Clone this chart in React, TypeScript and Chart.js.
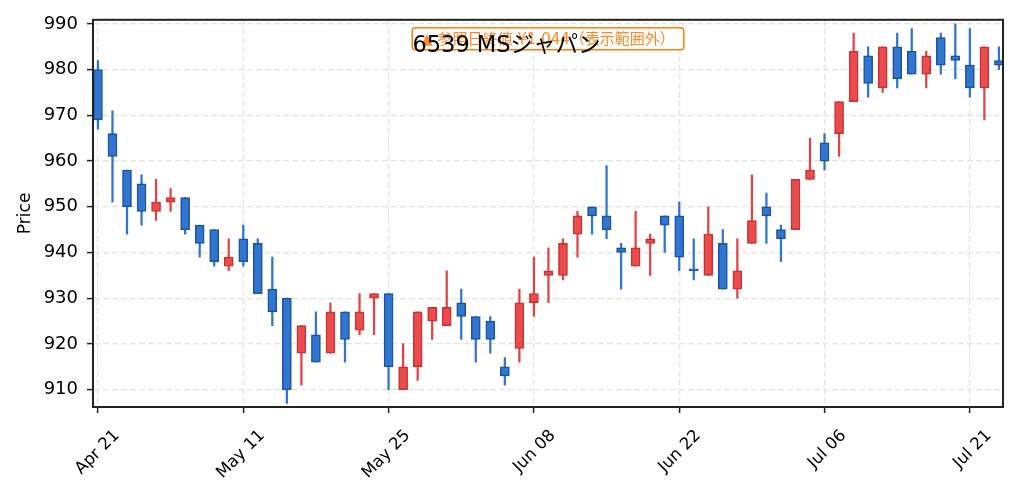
import { useEffect, useRef } from 'react';
import { Chart, registerables } from 'chart.js';

Chart.register(...registerables);

// 6539 MSジャパン daily OHLC (trading-day index)
const opens = [
  980, 966, 958, 955, 949, 951, 952, 946, 945, 937,
  943, 942, 932, 930, 918, 922, 918, 927, 923, 930,
  931, 910, 915, 925, 924, 929, 926, 925, 915, 919,
  929, 935, 935, 944, 950, 948, 941, 937, 942, 948,
  948, 936, 935, 942, 932, 942, 950, 945, 945, 956,
  964, 966, 973, 983, 976, 985, 984, 979, 987, 983,
  981, 976, 982,
];
const highs = [
  982, 971, 958, 957, 956, 954, 952, 946, 945, 943,
  946, 943, 939, 930, 924, 927, 929, 927, 931, 931,
  931, 920, 927, 928, 936, 932, 926, 926, 917, 932,
  939, 941, 943, 949, 950, 959, 942, 949, 944, 948,
  951, 943, 950, 945, 943, 957, 953, 946, 956, 965,
  966, 973, 988, 985, 985, 988, 989, 984, 988, 990,
  989, 985, 985,
];
const lows = [
  967, 951, 944, 946, 947, 949, 944, 939, 937, 936,
  937, 931, 924, 907, 911, 916, 918, 916, 922, 922,
  910, 910, 912, 921, 924, 921, 916, 918, 911, 916,
  926, 929, 934, 939, 944, 943, 932, 937, 935, 940,
  936, 934, 935, 932, 930, 942, 942, 938, 945, 956,
  958, 961, 973, 974, 975, 976, 979, 976, 979, 978,
  974, 969, 980,
];
const closes = [
  969, 961, 950, 949, 951, 952, 945, 942, 938, 939,
  938, 931, 927, 910, 924, 916, 927, 921, 927, 931,
  915, 915, 927, 928, 928, 926, 921, 921, 913, 929,
  931, 936, 942, 948, 948, 945, 940, 941, 943, 946,
  939, 936, 944, 932, 936, 947, 948, 943, 956, 958,
  960, 973, 984, 977, 985, 978, 979, 983, 981, 982,
  976, 985, 981,
];

const tickIndex = [0, 10, 20, 30, 40, 50, 60];
const tickLabels = ['Apr 21', 'May 11', 'May 25', 'Jun 08', 'Jun 22', 'Jul 06', 'Jul 21'];
const yTicks = [910, 920, 930, 940, 950, 960, 970, 980, 990];

const title = '6539 MSジャパン';
const note = '▲ 参照日終値 ¥1,044（表示範囲外）';

const FONT = '"DejaVu Sans", "Noto Sans CJK JP", sans-serif';
const UP_FILL = '#e84c4c';
const UP_EDGE = '#cc3030';
const DOWN_FILL = '#2f76cc';
const DOWN_EDGE = '#1a52a8';
const GRID = '#e3e3e3';
const AXIS = '#222222';

const isUp = (i: number) => closes[i] > opens[i];

const overlay = {
  id: 'overlay',
  afterDraw(chart: Chart) {
    const { ctx, chartArea } = chart;
    const { left, top, right, bottom } = chartArea;
    ctx.save();

    // frame on all four sides
    ctx.strokeStyle = AXIS;
    ctx.lineWidth = 2;
    ctx.setLineDash([]);
    ctx.strokeRect(left, top, right - left, bottom - top);

    // note box, centred on the plot
    ctx.font = `15px ${FONT}`;
    const cx = (left + right) / 2;
    const tw = ctx.measureText(note).width;
    const bw = tw + 18;
    const bx = cx - bw / 2;
    const by = top + 8;
    const bh = 22;
    ctx.beginPath();
    ctx.roundRect(bx, by, bw, bh, 3);
    ctx.fillStyle = 'rgba(255,255,255,0.85)';
    ctx.fill();
    ctx.strokeStyle = '#ff7f0e';
    ctx.lineWidth = 1.5;
    ctx.stroke();
    ctx.fillStyle = '#ff8a24';
    ctx.textAlign = 'center';
    ctx.textBaseline = 'middle';
    ctx.fillText(note, cx, by + bh / 2 + 1);

    // title, centred on the figure
    ctx.font = `22.5px ${FONT}`;
    ctx.fillStyle = '#000';
    ctx.textBaseline = 'alphabetic';
    ctx.fillText(title, chart.width / 2 - 3, 52);
    ctx.restore();
  },
};

export default function App() {
  const chartRef = useRef<HTMLCanvasElement>(null);
  const chartInstance = useRef<Chart | null>(null);

  useEffect(() => {
    if (chartRef.current) {
      if (chartInstance.current) {
        chartInstance.current.destroy();
      }
      const ctx = chartRef.current.getContext('2d');
      if (ctx) {
        const idx = opens.map((_, i) => i);
        chartInstance.current = new Chart(ctx, {
          type: 'bar',
          data: {
            datasets: [
              {
                label: 'body',
                order: 0,
                grouped: false,
                data: idx.map(i => ({ x: i, y: [opens[i], closes[i]] })) as any,
                backgroundColor: idx.map(i => (isUp(i) ? UP_FILL : DOWN_FILL)),
                borderColor: idx.map(i => (isUp(i) ? UP_EDGE : DOWN_EDGE)),
                borderWidth: 1.5,
                borderSkipped: false,
                barThickness: 9,
                minBarLength: 2,
              },
              {
                label: 'wick',
                order: 1,
                grouped: false,
                data: idx.map(i => ({ x: i, y: [lows[i], highs[i]] })) as any,
                backgroundColor: idx.map(i => (isUp(i) ? '#e04444' : DOWN_FILL)),
                borderWidth: 0,
                barThickness: 1.6,
              },
            ],
          },
          options: {
            responsive: false,
            animation: false,
            events: [],
            layout: { padding: { top: 19, right: 16, left: 0, bottom: 0 } },
            plugins: {
              legend: { display: false },
              tooltip: { enabled: false },
            },
            scales: {
              x: {
                type: 'linear',
                min: -0.34,
                max: 62.28,
                offset: false,
                afterBuildTicks: (s: any) => {
                  s.ticks = tickIndex.map(v => ({ value: v }));
                },
                afterFit: (s: any) => {
                  s.height = 90;
                },
                grid: {
                  offset: false,
                  color: GRID,
                  lineWidth: 1.2,
                  drawTicks: true,
                  tickLength: 6,
                  tickColor: AXIS,
                  tickWidth: 1.5,
                  tickBorderDash: [],
                },
                border: { display: true, color: AXIS, width: 2, dash: [6, 3] },
                ticks: {
                  autoSkip: false,
                  minRotation: 45,
                  maxRotation: 45,
                  labelOffset: 19,
                  padding: 13,
                  color: '#000',
                  font: { family: FONT, size: 16.5 },
                  callback: (v: any) => tickLabels[tickIndex.indexOf(Number(v))] ?? '',
                },
              },
              y: {
                type: 'linear',
                min: 906.2,
                max: 990.9,
                afterBuildTicks: (s: any) => {
                  s.ticks = yTicks.map(v => ({ value: v }));
                },
                afterFit: (s: any) => {
                  s.width = 93;
                },
                grid: {
                  color: GRID,
                  lineWidth: 1.2,
                  drawTicks: true,
                  tickLength: 6,
                  tickColor: AXIS,
                  tickWidth: 1.5,
                  tickBorderDash: [],
                },
                border: { display: true, color: AXIS, width: 2, dash: [6, 3] },
                ticks: {
                  padding: 9,
                  color: '#000',
                  font: { family: FONT, size: 18 },
                },
                title: {
                  display: true,
                  text: 'Price',
                  color: '#000',
                  font: { family: FONT, size: 17 },
                  padding: { top: 15, bottom: 0 },
                },
              },
            },
          },
          plugins: [overlay],
        });
      }
    }

    return () => {
      if (chartInstance.current) {
        chartInstance.current.destroy();
      }
    };
  }, []);

  return (
    <div style={{ position: 'fixed', left: 0, top: 0, width: 1019, height: 497, background: '#fff' }}>
      <canvas ref={chartRef} width={1019} height={497} style={{ width: 1019, height: 497 }} />
    </div>
  );
}
